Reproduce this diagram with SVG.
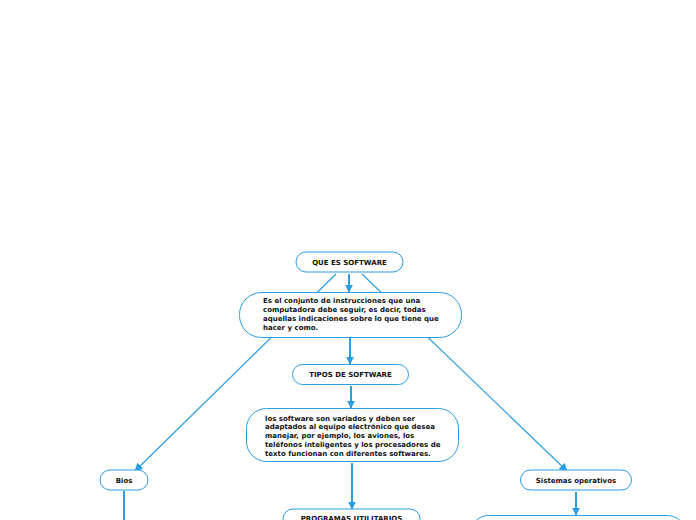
<svg xmlns="http://www.w3.org/2000/svg" width="696" height="520" viewBox="0 0 696 520">
<defs>
<style>
.n{fill:#fff;stroke:#2b9de3;stroke-width:1}
.t{font-family:"DejaVu Sans",Verdana,sans-serif;font-weight:bold;font-size:7px;fill:#111}
.c{text-anchor:middle}
.l{stroke:#2b9de3;fill:none}
.thin{stroke-width:1.2}
.thick{stroke-width:2}
</style>
<marker id="a" viewBox="0 0 10 10" refX="9" refY="5" markerWidth="4" markerHeight="4" orient="auto" markerUnits="strokeWidth"><path d="M0,0L10,5L0,10z" fill="#2b9de3"/></marker>
<marker id="b" viewBox="0 0 10 10" refX="9" refY="5" markerWidth="7" markerHeight="7" orient="auto" markerUnits="strokeWidth"><path d="M0,0L10,5L0,10z" fill="#2b9de3"/></marker>
</defs>
<rect width="696" height="520" fill="#fff"/>
<g id="connectors">
<line class="l thin" x1="336" y1="274" x2="135" y2="471" marker-end="url(#b)"/>
<line class="l thin" x1="362" y1="274" x2="567" y2="471" marker-end="url(#b)"/>
<line class="l thick" x1="349" y1="274" x2="349" y2="292" marker-end="url(#a)"/>
<line class="l thick" x1="350" y1="338" x2="350" y2="364" marker-end="url(#a)"/>
<line class="l thick" x1="351" y1="386" x2="351" y2="408" marker-end="url(#a)"/>
<line class="l thick" x1="352" y1="463" x2="352" y2="509" marker-end="url(#a)"/>
<line class="l thick" x1="124" y1="491" x2="124" y2="520"/>
<line class="l thick" x1="576" y1="492" x2="576" y2="515" marker-end="url(#a)"/>
</g>
<g id="n1"><rect class="n" x="296" y="252" width="107" height="20" rx="10"/><text class="t c" x="349.5" y="264.5">QUE ES SOFTWARE</text></g>
<g id="n2"><rect class="n" x="239.5" y="292.5" width="222" height="45" rx="22"/>
<text class="t" x="263" y="302.5">Es el conjunto de instrucciones que una</text>
<text class="t" x="263" y="311.5">computadora debe seguir, es decir, todas</text>
<text class="t" x="263" y="320.5">aquellas indicaciones sobre lo que tiene que</text>
<text class="t" x="263" y="329.5">hacer y como.</text></g>
<g id="n3"><rect class="n" x="292.5" y="364.5" width="116" height="20" rx="10"/><text class="t c" x="350.5" y="377">TIPOS DE SOFTWARE</text></g>
<g id="n4"><rect class="n" x="246.5" y="408.5" width="212" height="53" rx="20"/>
<text class="t" x="265" y="420.5">los software son variados y deben ser</text>
<text class="t" x="265" y="429">adaptados al equipo electrónico que desea</text>
<text class="t" x="265" y="438">manejar, por ejemplo, los aviones, los</text>
<text class="t" x="265" y="447">teléfonos inteligentes y los procesadores de</text>
<text class="t" x="265" y="455.5">texto funcionan con diferentes softwares.</text></g>
<g id="n5"><rect class="n" x="100" y="470" width="48" height="20" rx="10"/><text class="t c" x="124" y="482.5">Bios</text></g>
<g id="n6"><rect class="n" x="520.5" y="470" width="111" height="20" rx="10"/><text class="t c" x="576" y="482.5">Sistemas operativos</text></g>
<g id="n7"><rect class="n" x="283" y="509" width="137" height="24" rx="10"/><text class="t c" x="351.5" y="520.5">PROGRAMAS UTILITARIOS</text></g>
<g id="n8"><rect class="n" x="470.5" y="515.5" width="215" height="40" rx="18"/></g>
</svg>
